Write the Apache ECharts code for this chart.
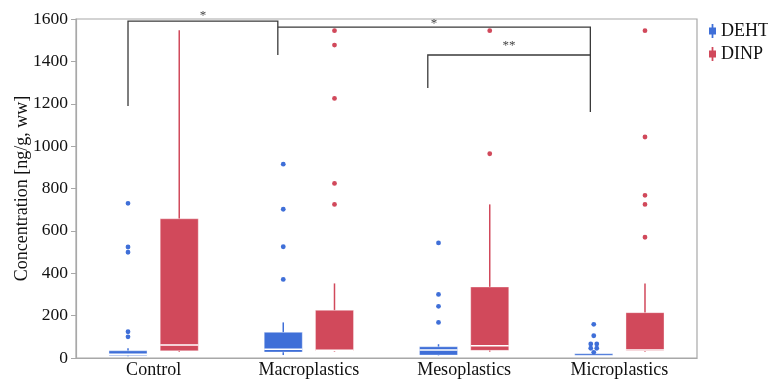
<!DOCTYPE html>
<html><head><meta charset="utf-8">
<script src="https://cdn.jsdelivr.net/npm/echarts@6/dist/echarts.min.js"></script>
<style>html,body{margin:0;padding:0;background:#fff}#c{width:768px;height:381px}</style>
</head><body><div id="c"></div>
<script>
// ---- data ----
const categories = ['Control', 'Macroplastics', 'Mesoplastics', 'Microplastics'];
const seriesNames = ['DEHT', 'DINP'];
const yMin = 0, yMax = 1600, yStep = 200;
// [min, Q1, median, Q3, max]
const dehtBox = [[8, 12, 18, 34, 46], [14, 28, 41, 121, 168], [12, 14, 38, 53, 65], [14, 15, 17, 20, 22]];
const dinpBox = [[30, 34, 61, 657, 1547], [30, 33, 37, 225, 352], [30, 36, 58, 335, 725], [30, 33, 38, 214, 352]];
const dehtOutliers = [[730, 524, 499, 124, 100], [915, 702, 525, 371], [543, 300, 244, 168], [159, 105, 66, 66, 46, 46, 27]];
const dinpOutliers = [[], [1545, 1477, 1225, 824, 725], [1545, 964], [1545, 1043, 768, 725, 570]];
// significance brackets: from category, to category, leg bottoms / top (value units), mark
const bracketFrom = [0, 1, 2];
const bracketTo = [1, 3, 3];
const bracketLowFrom = [1189, 1562, 1274];
const bracketTop = [1590, 1562, 1430];
const bracketLowTo = [1430, 1161, 1430];
const bracketMarkAt = [1628, 1592, 1487];
const bracketMarks = ['*', '*', '**'];

// ---- style ----
const COLORS = ['#3f6fd8', '#d1495b'];
const OFFS = [-0.165, 0.165];
const BOX_W = 0.245;
const ANCHOR = [-0.165, -0.2, -0.234, -0.187];
const FONT = 'Liberation Serif';

function boxData(arr) { return arr.map((b, i) => [i].concat(b)); }
function outlierData(arr) {
  const out = [];
  arr.forEach((vals, i) => {
    const seen = {};
    vals.forEach(v => {
      const n = vals.filter(x => x === v).length;
      const k = seen[v] = (seen[v] || 0) + 1;
      out.push([i, v, n > 1 ? (k === 1 ? -1 : 1) : 0]);
    });
  });
  return out;
}
function boxRender(s) {
  return function (params, api) {
    const c = api.value(0);
    const band = api.size([1, 0])[0];
    const cx = api.coord([c, 0])[0] + band * OFFS[s];
    const w = band * BOX_W;
    const y = d => api.coord([c, api.value(d)])[1];
    const ymin = y(1), yq1 = y(2), ymed = y(3), yq3 = y(4), ymax = y(5);
    const col = COLORS[s];
    const ch = [
      { type: 'line', shape: { x1: cx, y1: yq3, x2: cx, y2: ymax }, style: { stroke: col, lineWidth: 1.5 } },
      { type: 'line', shape: { x1: cx, y1: yq1, x2: cx, y2: ymin }, style: { stroke: col, lineWidth: 1.5 } },
      { type: 'rect', shape: { x: cx - w / 2, y: yq3, width: w, height: Math.max(yq1 - yq3, 1.6) }, style: { fill: col, stroke: 'rgba(255,255,255,0.35)', lineWidth: 1 } }
    ];
    if (yq1 - yq3 > 3) ch.push({ type: 'line', shape: { x1: cx - w / 2, y1: ymed, x2: cx + w / 2, y2: ymed }, style: { stroke: '#fff', lineWidth: 1.5 } });
    return { type: 'group', children: ch };
  };
}
function outRender(s) {
  return function (params, api) {
    const c = api.value(0);
    const band = api.size([1, 0])[0];
    const p = api.coord([c, api.value(1)]);
    return { type: 'circle', shape: { cx: p[0] + band * OFFS[s] + api.value(2) * 3, cy: p[1], r: 2.4 }, style: { fill: COLORS[s] } };
  };
}
function bracketRender(params, api) {
  const i = params.dataIndex;
  const band = api.size([1, 0])[0];
  const f = api.value(0), t = api.value(1);
  const xf = api.coord([f, 0])[0] + band * ANCHOR[f];
  const xt = api.coord([t, 0])[0] + band * ANCHOR[t];
  const Y = v => api.coord([f, v])[1];
  return {
    type: 'group', children: [
      { type: 'polyline', shape: { points: [[xf, Y(api.value(2))], [xf, Y(api.value(3))], [xt, Y(api.value(3))], [xt, Y(api.value(4))]] }, style: { stroke: '#3a3a3a', lineWidth: 1.3, fill: null } },
      { type: 'text', x: (xf + xt) / 2, y: Y(api.value(5)) + 3, style: { text: bracketMarks[i], fill: '#444', font: '13px "' + FONT + '"', align: 'center', verticalAlign: 'middle' } }
    ]
  };
}
const bracketData = bracketFrom.map((f, i) => [f, bracketTo[i], bracketLowFrom[i], bracketTop[i], bracketLowTo[i], bracketMarkAt[i]]);

const chart = echarts.init(document.getElementById('c'), null, { renderer: 'canvas' });
const iconPath = 'path://M3,0h2v4h3v8h-3v4h-2v-4h-3v-8h3z';
chart.setOption({
  animation: false,
  backgroundColor: '#fff',
  grid: { left: 76, right: 71, top: 19, bottom: 23, show: true, borderColor: '#a8a8a8', borderWidth: 1.2, containLabel: false, outerBoundsMode: 'none' },
  legend: {
    orient: 'vertical', left: 704, top: 17, itemGap: 5, itemWidth: 7, itemHeight: 15, itemTextGap: 5,
    data: seriesNames.map((n, i) => ({ name: n, icon: iconPath, itemStyle: { color: COLORS[i] } })),
    textStyle: { fontFamily: FONT, fontSize: 18, color: '#111' }
  },
  xAxis: {
    type: 'category', data: categories,
    axisLine: { lineStyle: { color: '#a8a8a8', width: 1.2 } }, axisTick: { show: false },
    axisLabel: { fontFamily: FONT, fontSize: 18, color: '#111', margin: 3 }
  },
  yAxis: {
    type: 'value', min: yMin, max: yMax, interval: yStep,
    name: 'Concentration [ng/g, ww]', nameLocation: 'middle', nameGap: 45, nameMoveOverlap: false,
    nameTextStyle: { fontFamily: FONT, fontSize: 18, color: '#111' },
    axisLine: { show: true, lineStyle: { color: '#a8a8a8', width: 1.2 } },
    axisTick: { show: true, length: 5, lineStyle: { color: '#a8a8a8' } },
    splitLine: { show: false },
    axisLabel: { fontFamily: FONT, fontSize: 17.5, color: '#111', margin: 8, formatter: v => String(v) }
  },
  series: [
    { name: 'DEHT', type: 'custom', color: COLORS[0], renderItem: boxRender(0), data: boxData(dehtBox), encode: { x: 0, y: [1, 2, 3, 4, 5] } },
    { name: 'DINP', type: 'custom', color: COLORS[1], renderItem: boxRender(1), data: boxData(dinpBox), encode: { x: 0, y: [1, 2, 3, 4, 5] } },
    { name: 'DEHT', type: 'custom', color: COLORS[0], renderItem: outRender(0), data: outlierData(dehtOutliers), encode: { x: 0, y: 1 } },
    { name: 'DINP', type: 'custom', color: COLORS[1], renderItem: outRender(1), data: outlierData(dinpOutliers), encode: { x: 0, y: 1 } },
    { name: 'brackets', type: 'custom', renderItem: bracketRender, data: bracketData, clip: false, z: 5, encode: { x: 0, y: [2, 3, 4] } }
  ]
});
</script></body></html>
